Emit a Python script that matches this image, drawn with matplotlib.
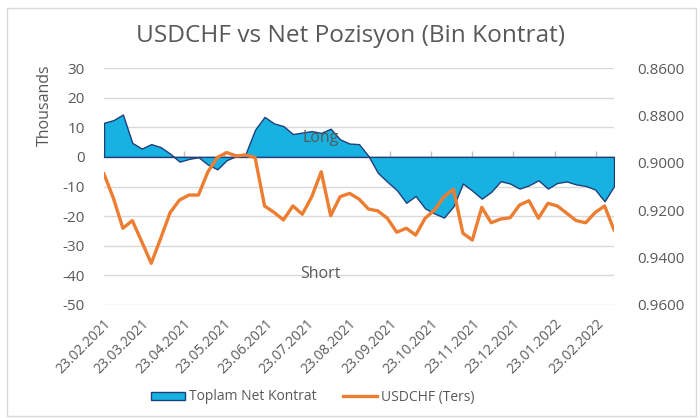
import matplotlib
matplotlib.use("Agg")
import matplotlib.pyplot as plt
import numpy as np
import pandas as pd
from matplotlib.patches import Patch
from matplotlib.lines import Line2D

plt.rcParams['font.family'] = ['Open Sans', 'DejaVu Sans']

# weekly dates (Tuesdays) from 23.02.2021
dates = pd.date_range("2021-02-23", periods=55, freq="7D")

net_positions = [
    11.5, 12.4, 14.3, 4.7, 2.8, 4.3, 3.3, 1.1, -1.6, -0.7,
    -0.1, -2.6, -4.2, -1.1, 0.3, 1.1, 9.2, 13.5, 11.3, 10.4,
    7.7, 8.2, 8.7, 8.1, 9.5, 5.9, 4.5, 4.3, 0.3, -5.4,
    -8.4, -11.2, -15.5, -13.2, -17.4, -19.1, -20.5, -16.7, -9.0, -11.4,
    -14.1, -11.8, -8.2, -9.0, -10.7, -9.6, -7.9, -10.7, -8.8, -8.3,
    -9.3, -9.8, -11.0, -15.0, -9.9,
]

usdchf = [
    0.9047, 0.9150, 0.9276, 0.9244, 0.9333, 0.9424, 0.9319, 0.9210, 0.9157, 0.9136,
    0.9136, 0.9038, 0.8977, 0.8957, 0.8971, 0.8967, 0.8978, 0.9182, 0.9209, 0.9241,
    0.9182, 0.9217, 0.9143, 0.9038, 0.9223, 0.9143, 0.9129, 0.9153, 0.9195, 0.9203,
    0.9234, 0.9293, 0.9276, 0.9305, 0.9234, 0.9199, 0.9143, 0.9112, 0.9297, 0.9326,
    0.9188, 0.9253, 0.9237, 0.9232, 0.9178, 0.9160, 0.9234, 0.9171, 0.9182, 0.9213,
    0.9244, 0.9253, 0.9210, 0.9182, 0.9283,
]

tick_labels = ["23.02.2021", "23.03.2021", "23.04.2021", "23.05.2021", "23.06.2021",
               "23.07.2021", "23.08.2021", "23.09.2021", "23.10.2021", "23.11.2021",
               "23.12.2021", "23.01.2022", "23.02.2022"]
tick_dates = pd.to_datetime(tick_labels, format="%d.%m.%Y")
left_ticks = [30, 20, 10, 0, -10, -20, -30, -40, -50]
right_ticks = [0.86, 0.88, 0.90, 0.92, 0.94, 0.96]

GRAY = '#595959'
BLUE = '#17B2E2'
NAVY = '#1F3F7A'
ORANGE = '#ED7D31'

fig = plt.figure(figsize=(7.0, 4.18), dpi=100)
ax = fig.add_axes([104/700, 1-305/418, 510/700, 237/418])

ax.fill_between(dates, net_positions, 0, facecolor=BLUE, edgecolor=NAVY, linewidth=1.0, zorder=2)
ax.set_ylim(-50, 30)
ax.set_yticks(left_ticks)
ax.set_yticklabels([str(v) for v in left_ticks])
ax.set_xlim(dates[0], dates[-1])
ax.grid(axis='y', color='#D9D9D9', linewidth=1.0, zorder=0)
ax.set_axisbelow(True)
for s in ax.spines.values():
    s.set_visible(False)
ax.set_xticks(tick_dates)
ax.set_xticklabels(tick_labels, rotation=45, ha='right', va='top', rotation_mode='anchor')
ax.tick_params(axis='x', length=0, pad=8, labelsize=10, labelcolor=GRAY)
ax.tick_params(axis='y', length=0, pad=14, labelsize=11, labelcolor=GRAY)

# zero-line axis with small tick marks
sec = ax.secondary_xaxis(50/80)
sec.set_xticks(tick_dates)
sec.tick_params(axis='x', labelbottom=False, labeltop=False, direction='out', length=4, color='#BFBFBF', width=1)
sec.spines['bottom'].set_color('#4A6FA5')
sec.spines['bottom'].set_linewidth(1.0)

ax2 = ax.twinx()
ax2.plot(dates, usdchf, color=ORANGE, linewidth=2.4, solid_joinstyle='round', zorder=3)
ax2.set_ylim(0.96, 0.86)
ax2.set_yticks(right_ticks)
ax2.set_yticklabels([f"{v:.4f}" for v in right_ticks])
ax2.tick_params(axis='y', length=0, pad=17, labelsize=11, labelcolor=GRAY)
for s in ax2.spines.values():
    s.set_visible(False)

ax2.text(0.424, 0.705, "Long", transform=ax2.transAxes, ha='center', va='center', fontsize=11.5, color=GRAY, zorder=5)
ax2.text(0.424, 0.131, "Short", transform=ax2.transAxes, ha='center', va='center', fontsize=11.5, color=GRAY, zorder=5)

fig.text(351/700, 1-36/418, "USDCHF vs Net Pozisyon (Bin Kontrat)", ha='center', va='center', fontsize=17.6, color=GRAY)
fig.text(45/700, 1-105/418, "Thousands", rotation=90, ha='center', va='center', fontsize=11.5, color=GRAY)

handles = [Patch(facecolor=BLUE, edgecolor=NAVY, linewidth=1.0),
           Line2D([0], [0], color=ORANGE, linewidth=2.4)]
fig.legend(handles, ["Toplam Net Kontrat", "USDCHF (Ters)"], loc='center',
           bbox_to_anchor=(313/700, 1-397/418), ncol=2, frameon=False,
           fontsize=10, labelcolor=GRAY, handlelength=2.45, handleheight=0.5,
           handletextpad=0.3, columnspacing=1.9)

border = plt.Rectangle((7/700, 2/418), 689/700, 408/418, transform=fig.transFigure,
                       fill=False, edgecolor='#D9D9D9', linewidth=1.0)
fig.add_artist(border)

fig.savefig("out.png", dpi=100)
